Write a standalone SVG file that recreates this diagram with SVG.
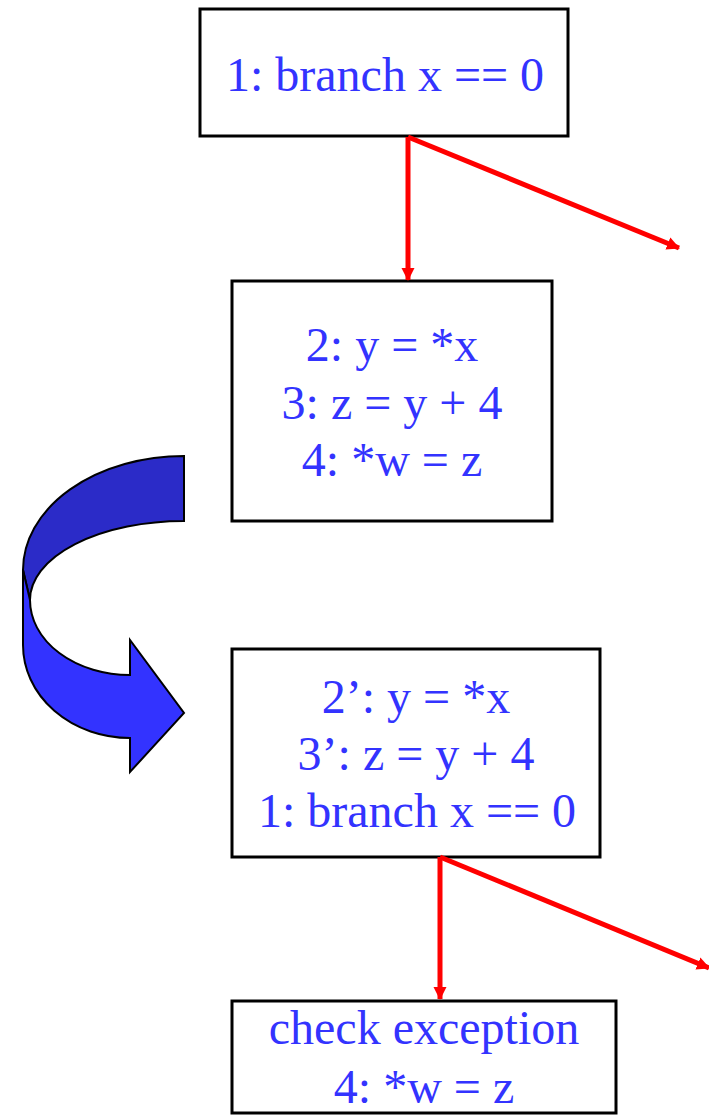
<svg xmlns="http://www.w3.org/2000/svg" width="709" height="1118" viewBox="0 0 709 1118">
<style>
.box{fill:#fff;stroke:#000;stroke-width:3}
.t{font-family:"Liberation Serif","Times New Roman",serif;font-size:48px;fill:#3333FF;text-anchor:middle}
.edge{stroke:#FF0000;stroke-width:5;fill:none}
</style>
<defs>
<marker id="ah" markerUnits="userSpaceOnUse" markerWidth="14" markerHeight="14" refX="12" refY="6.5" orient="auto">
<path d="M0,0 L13,6.5 L0,13 Z" fill="#FF0000"/>
</marker>
</defs>
<rect width="709" height="1118" fill="#fff"/>
<g id="n1"><rect class="box" x="200" y="9" width="368" height="127"/><text class="t" x="385" y="91">1: branch x == 0</text></g>
<g id="n2"><rect class="box" x="232" y="281" width="320" height="240"/>
<text class="t" x="392" y="361">2: y = *x</text>
<text class="t" x="392" y="419">3: z = y + 4</text>
<text class="t" x="392" y="476">4: *w = z</text></g>
<g id="n3"><rect class="box" x="232" y="649" width="368" height="208"/>
<text class="t" x="416" y="713">2’: y = *x</text>
<text class="t" x="416" y="770">3’: z = y + 4</text>
<text class="t" x="417" y="827">1: branch x == 0</text></g>
<g id="n4"><rect class="box" x="232" y="1001" width="384" height="112"/>
<text class="t" x="424" y="1044">check exception</text>
<text class="t" x="424" y="1103">4: *w = z</text></g>
<g id="transform-arrow" stroke="#000" stroke-width="2" stroke-linejoin="miter">
<path d="M184,456 A161,114 0 0 0 23,570 L30,600 A154,79 0 0 1 184,521 Z" fill="#2B2BC8"/>
<path d="M23,570 L23,645 A107,93 0 0 0 130,738 L130,772 L184,713 L130,640 L130,675 A100,75 0 0 1 30,600 Z" fill="#3333FF"/>
</g>
<g id="connectors">
<path class="edge" d="M408,137 L408,280" marker-end="url(#ah)"/>
<path class="edge" d="M408,137 L679,248" marker-end="url(#ah)"/>
<path class="edge" d="M440,857 L440,999" marker-end="url(#ah)"/>
<path class="edge" d="M440,857 L709,968" marker-end="url(#ah)"/>
</g>
</svg>
